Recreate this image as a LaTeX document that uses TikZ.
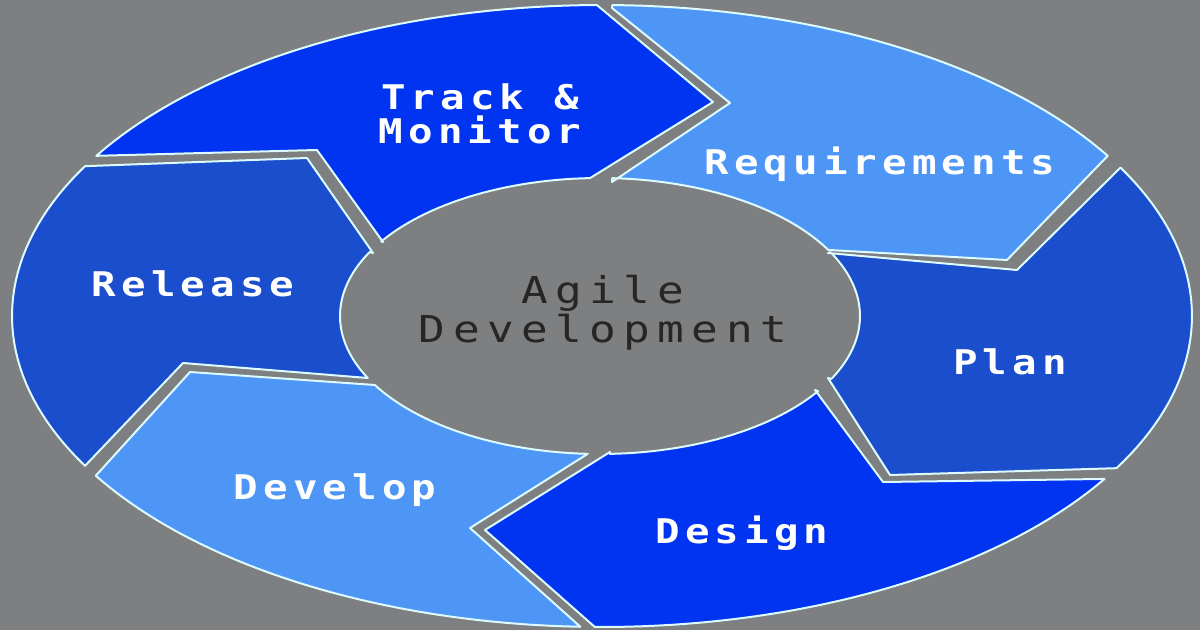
\documentclass[tikz,border=0pt]{standalone}
\usepackage{fontspec}
\newfontfamily\phasefont[FakeStretch=1.2, LetterSpace=15]{DejaVu Sans Mono Bold}
\newfontfamily\hubfont[FakeStretch=1.2, LetterSpace=20]{DejaVu Sans Mono}
\definecolor{bggray}{RGB}{125,127,128}
\definecolor{brightblue}{RGB}{0,52,240}
\definecolor{midblue}{RGB}{26,78,204}
\definecolor{lightblue}{RGB}{78,150,246}
\definecolor{rimwhite}{RGB}{220,250,255}

\begin{document}
\begin{tikzpicture}[x=0.5pt, y=-0.5pt,
    segment/.style={draw=rimwhite, line width=1pt, line join=round},
    phase/.style={font=\phasefont\fontsize{17}{17}\selectfont, text=white, align=center},
    hub/.style={font=\hubfont\fontsize{18.5}{19.5}\selectfont, text=black!85, align=center}]
  \fill[bggray] (0,0) rectangle (1200,630);
  \useasboundingbox (0,0) rectangle (1200,630);
  % rim: ellipse (602,316) 590x311, hub: ellipse (600,316) 260x138
  \path[segment, fill=brightblue] (317,150) -- (383,242)
    -- plot[domain=-147.3:-92.2, samples=30] ({600+260*cos(\x)},{316+138*sin(\x)})
    -- (713,102)
    -- plot[domain=-90.5:-149, samples=40] ({602+590*cos(\x)},{316+311*sin(\x)}) -- cycle;
  \path[segment, fill=lightblue] (612,8) -- (730,103) -- (612,182)
    -- plot[domain=-87.3:-28.6, samples=30] ({600+260*cos(\x)},{316+138*sin(\x)})
    -- (1007,260)
    -- plot[domain=-31:-89, samples=40] ({602+590*cos(\x)},{316+311*sin(\x)}) -- cycle;
  \path[segment, fill=midblue] (828,253) -- (1017,270)
    -- plot[domain=-28.5:29.3, samples=40] ({602+590*cos(\x)},{316+311*sin(\x)})
    -- (890,475) -- (828,378)
    -- plot[domain=27.1:-27.5, samples=30] ({600+260*cos(\x)},{316+138*sin(\x)}) -- cycle;
  \path[segment, fill=brightblue] (815,390) -- (883,482)
    -- plot[domain=31.6:90.7, samples=40] ({602+590*cos(\x)},{316+311*sin(\x)})
    -- (485,530) -- (610,452)
    -- plot[domain=87.8:33, samples=30] ({600+260*cos(\x)},{316+138*sin(\x)}) -- cycle;
  \path[segment, fill=lightblue] (190,372)
    -- plot[domain=150:92.7, samples=30] ({600+260*cos(\x)},{316+138*sin(\x)})
    -- (470,528)
    -- plot[domain=92.1:149.1, samples=40] ({602+590*cos(\x)},{316+311*sin(\x)}) -- cycle;
  \path[segment, fill=midblue] (307,158) -- (373,253)
    -- plot[domain=207.6:153.3, samples=30] ({600+260*cos(\x)},{316+138*sin(\x)})
    -- (183,363)
    -- plot[domain=151.2:208.8, samples=40] ({602+590*cos(\x)},{316+311*sin(\x)}) -- cycle;
  % labels
  \node[phase] (track) at (480,114) {Track \&\\Monitor};
  \node[phase] (requirements) at (880,164) {Requirements};
  \node[phase] (plan) at (1010,362) {Plan};
  \node[phase] (design) at (742,533) {Design};
  \node[phase] (develop) at (335,490) {Develop};
  \node[phase] (release) at (193,284) {Release};
  \node[hub] (agile) at (603,313) {Agile\\Development};
\end{tikzpicture}
\end{document}
